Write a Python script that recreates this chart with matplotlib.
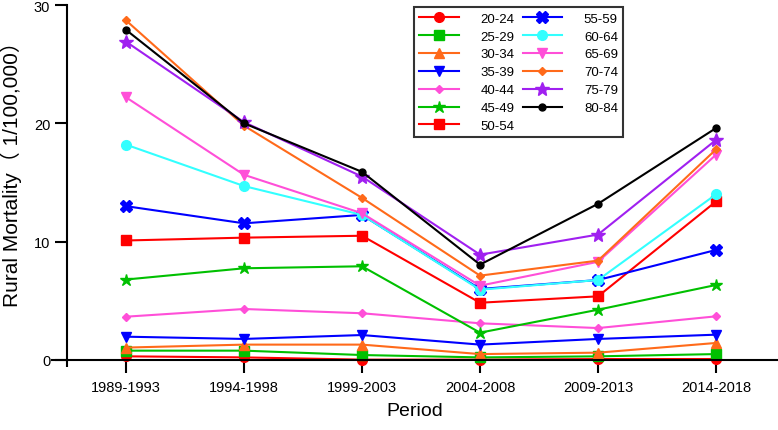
import numpy as np
import matplotlib
matplotlib.use('Agg')
import matplotlib.pyplot as plt

plt.rcParams['font.family'] = ['Liberation Sans', 'Noto Sans CJK SC', 'DejaVu Sans']

periods = ['1989-1993', '1994-1998', '1999-2003', '2004-2008', '2009-2013', '2014-2018']

age_groups = ['20-24', '25-29', '30-34', '35-39', '40-44', '45-49', '50-54',
              '55-59', '60-64', '65-69', '70-74', '75-79', '80-84']

rate_20_24 = [0.31, 0.22, 0.03, 0.03, 0.08, 0.08]
rate_25_29 = [0.79, 0.79, 0.42, 0.22, 0.31, 0.50]
rate_30_34 = [1.05, 1.30, 1.30, 0.50, 0.62, 1.44]
rate_35_39 = [1.97, 1.78, 2.11, 1.30, 1.78, 2.14]
rate_40_44 = [3.66, 4.31, 3.95, 3.10, 2.70, 3.69]
rate_45_49 = [6.80, 7.75, 7.92, 2.31, 4.25, 6.34]
rate_50_54 = [10.10, 10.34, 10.50, 4.84, 5.38, 13.40]
rate_55_59 = [13.00, 11.55, 12.26, 6.00, 6.76, 9.30]
rate_60_64 = [18.20, 14.70, 12.26, 5.94, 6.76, 14.00]
rate_65_69 = [22.20, 15.65, 12.40, 6.28, 8.30, 17.35]
rate_70_74 = [28.70, 19.80, 13.70, 7.13, 8.40, 17.80]
rate_75_79 = [26.90, 20.10, 15.50, 8.90, 10.60, 18.60]
rate_80_84 = [27.90, 20.00, 15.90, 8.06, 13.20, 19.60]

rates = [rate_20_24, rate_25_29, rate_30_34, rate_35_39, rate_40_44, rate_45_49,
         rate_50_54, rate_55_59, rate_60_64, rate_65_69, rate_70_74, rate_75_79,
         rate_80_84]

colors = ['#FF0000', '#00C000', '#FF6A1A', '#0000FF', '#FF4FD8', '#00C000', '#FF0000',
          '#0000FF', '#33FFFF', '#FF4FD8', '#FF6A1A', '#A020F0', '#000000']
markers = ['o', 's', '^', 'v', 'D', '*', 's', 'X', 'o', 'v', 'D', '*', 'o']
msizes = [7, 6.5, 7, 7, 4.5, 9, 7, 8, 7, 7, 4.5, 10, 5]

fig = plt.figure(figsize=(7.78, 4.31), dpi=100)
ax = fig.add_axes([52 / 778, 70 / 431, 726 / 778, 355 / 431])

x = np.arange(len(periods))
for label, vals, c, m, ms in zip(age_groups, rates, colors, markers, msizes):
    ax.plot(x, vals, color=c, marker=m, markersize=ms, linewidth=1.5,
            label=label, clip_on=False)

ax.set_xlim(-0.627, 5.525)
ax.set_ylim(0, 30)
ax.set_yticks([0, 10, 20, 30])
ax.set_xticks(x)
ax.set_xticks([-0.5], minor=True)
ax.set_xticklabels(periods, fontsize=10.5)
ax.tick_params(axis='y', labelsize=10.5, length=9, width=1.5, pad=3)
ax.tick_params(axis='x', which='major', length=9.5, width=1.5, pad=5)
ax.tick_params(axis='x', which='minor', length=5, width=1.5)

ax.spines['top'].set_visible(False)
ax.spines['right'].set_visible(False)
ax.spines['left'].set_position(('data', -0.5))
ax.spines['left'].set_linewidth(1.5)
ax.spines['bottom'].set_linewidth(1.5)

ax.set_xlabel('Period', fontsize=14, labelpad=6)
ax.set_ylabel('Rural Mortality（ 1/100,000）', fontsize=15)
ax.yaxis.set_label_coords(-0.042, 0.54)

leg = ax.legend(ncol=2, loc='upper left', bbox_to_anchor=(0.4986, 0.994),
                borderaxespad=0, fontsize=9.5, handlelength=3.0, frameon=True,
                fancybox=False, edgecolor='black', columnspacing=0.6,
                labelspacing=0.43, handletextpad=1.65)
leg.get_frame().set_linewidth(1.5)

fig.savefig('out.png', dpi=100)
